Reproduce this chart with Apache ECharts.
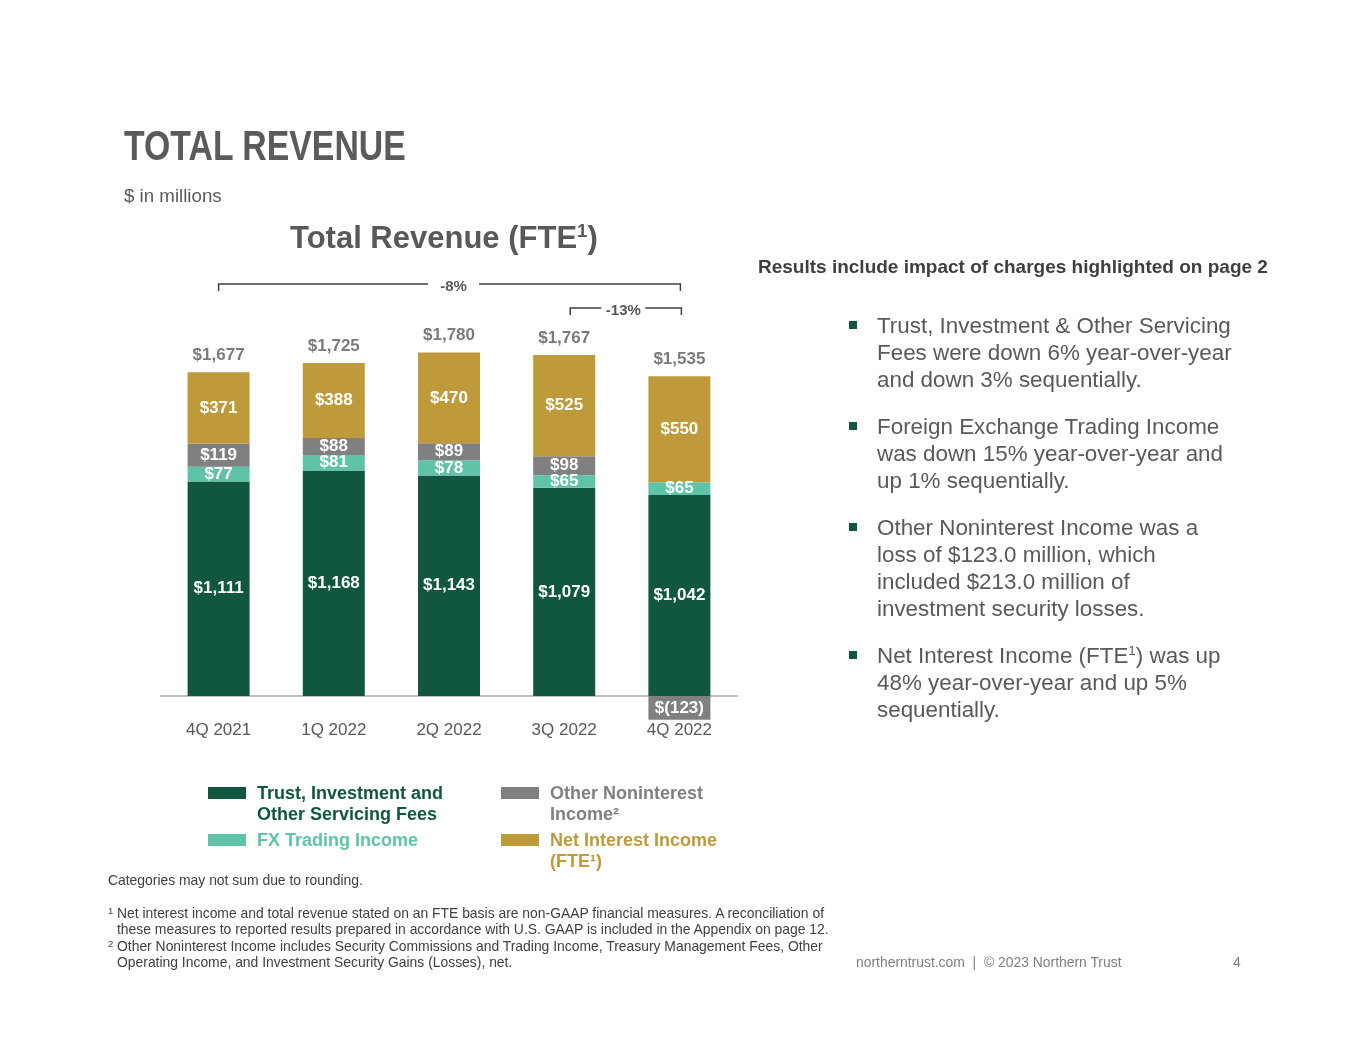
<!DOCTYPE html>
<html>
<head>
<meta charset="utf-8">
<title>Total Revenue</title>
<script src="https://cdn.jsdelivr.net/npm/echarts@6.0.0/dist/echarts.min.js"></script>
<style>
    html, body { margin: 0; padding: 0; background: #fff; }
    body { width: 1365px; height: 1055px; position: relative; overflow: hidden;
           font-family: "Liberation Sans", Arial, sans-serif; }
    #main { position: absolute; left: 0; top: 0; width: 1365px; height: 1055px; }
    .txt { position: absolute; white-space: nowrap; }
    .pageTitle { left: 124px; top: 125px; font-size: 42px; line-height: 42px; font-weight: bold;
                 color: #5b5b5b; transform: scaleX(0.805); transform-origin: left top; }
    .unit { left: 124px; top: 186px; font-size: 18.7px; line-height: 20px; color: #595959; }
    .chartTitle { left: 290px; top: 222px; font-size: 31px; line-height: 31px; font-weight: bold; color: #595959; }
    .chartTitle sup, .bullets sup { font-size: 60%; line-height: 0; vertical-align: 0.6em; }
    .note { left: 758px; top: 257px; font-size: 19px; line-height: 20px; font-weight: bold; color: #3f3f3f; }
    .bullets { left: 877px; top: 312px; font-size: 22.4px; line-height: 27px; color: #595959; }
    .bullets p { margin: 0 0 20px 0; position: relative; }
    .bullets p:before { content: ""; position: absolute; left: -28px; top: 9px; width: 8px; height: 8px; background: #115740; }
    .foot { font-size: 13.9px; line-height: 16.4px; color: #404040; }
    .fn { position: relative; padding-left: 9px; }
    .fn .mk { position: absolute; left: 0; top: -2px; font-size: 9.5px; }
    .footer { top: 954px; font-size: 13.9px; line-height: 16px; color: #7f7f7f; }
</style>
</head>
<body>
<div id="main"></div>

<div class="txt pageTitle">TOTAL REVENUE</div>
<div class="txt unit">$ in millions</div>
<div class="txt chartTitle">Total Revenue (FTE<sup>1</sup>)</div>
<div class="txt note">Results include impact of charges highlighted on page 2</div>

<div class="txt bullets">
    <p>Trust, Investment &amp; Other Servicing<br>Fees were down 6% year-over-year<br>and down 3% sequentially.</p>
    <p>Foreign Exchange Trading Income<br>was down 15% year-over-year and<br>up 1% sequentially.</p>
    <p>Other Noninterest Income was a<br>loss of $123.0 million, which<br>included $213.0 million of<br>investment security losses.</p>
    <p>Net Interest Income (FTE<sup>1</sup>) was up<br>48% year-over-year and up 5%<br>sequentially.</p>
</div>

<div class="txt foot" style="left:108px;top:872px;">Categories may not sum due to rounding.</div>
<div class="txt foot" style="left:108px;top:905px;">
    <div class="fn"><span class="mk">1</span>Net interest income and total revenue stated on an FTE basis are non-GAAP financial measures. A reconciliation of<br>these measures to reported results prepared in accordance with U.S. GAAP is included in the Appendix on page 12.</div>
    <div class="fn"><span class="mk">2</span>Other Noninterest Income includes Security Commissions and Trading Income, Treasury Management Fees, Other<br>Operating Income, and Investment Security Gains (Losses), net.</div>
</div>

<div class="txt footer" style="left:856px;">northerntrust.com &nbsp;|&nbsp; © 2023 Northern Trust</div>
<div class="txt footer" style="left:1233px;">4</div>

<script>
// 数据
var categories = ['4Q 2021', '1Q 2022', '2Q 2022', '3Q 2022', '4Q 2022'];
var trustFees = [1111, 1168, 1143, 1079, 1042];
var fxIncome = [77, 81, 78, 65, 65];
var otherIncome = [119, 88, 89, 98, -123];
var netInterest = [371, 388, 470, 525, 550];
var totals = [1677, 1725, 1780, 1767, 1535];
// 变化幅度 (from / to 是类目下标)
var changes = [
    { from: 0, to: 4, text: '-8%' },
    { from: 3, to: 4, text: '-13%' }
];

var FONT = '"Liberation Sans", Arial, sans-serif';
var colors = {
    trust: '#115740',
    fx: '#5fc4a7',
    other: '#808080',
    nii: '#bf9a3b'
};

window.onload = function () {
    drawRevenue();
};

// 金额格式 $1,111 / $(123)
var money = function (v) {
    var s = String(Math.abs(v)).replace(/\B(?=(\d{3})+(?!\d))/g, ',');
    return v < 0 ? '$(' + s + ')' : '$' + s;
};

var barSeries = function (name, data, color) {
    return {
        name: name,
        type: 'bar',
        stack: 'rev',
        barWidth: 62,
        clip: false,
        data: data,
        itemStyle: { color: color },
        emphasis: { disabled: true },
        label: {
            show: true,
            position: 'inside',
            color: '#fff',
            fontFamily: FONT,
            fontWeight: 'bold',
            fontSize: 17,
            formatter: function (p) { return money(p.value); }
        }
    };
};

var drawRevenue = function () {
    var box = document.getElementById('main');
    var myChart = echarts.init(box);

    // 正值堆叠的顶部, 用来放总额标签
    var posTop = categories.map(function (c, i) {
        return [trustFees, fxIncome, otherIncome, netInterest].reduce(function (s, arr) {
            return s + Math.max(arr[i], 0);
        }, 0);
    });

    // 网格底边就是 0 线, 负值柱子画在网格下方
    var option = {
        animation: false,
        grid: { left: 161, top: 310, width: 576, height: 386 },
        xAxis: {
            type: 'category',
            data: categories,
            axisTick: { show: false },
            axisLine: { lineStyle: { color: '#bfbfbf', width: 2 } },
            axisLabel: { margin: 26, fontSize: 17, color: '#595959', fontFamily: FONT }
        },
        yAxis: {
            type: 'value',
            min: 0,
            max: 2000,
            show: false
        },
        series: [
            barSeries('Trust, Investment and Other Servicing Fees', trustFees, colors.trust),
            barSeries('FX Trading Income', fxIncome, colors.fx),
            barSeries('Other Noninterest Income', otherIncome, colors.other),
            barSeries('Net Interest Income (FTE)', netInterest, colors.nii),
            {
                name: 'Total',
                type: 'scatter',
                data: posTop,
                symbolSize: 1,
                silent: true,
                itemStyle: { color: 'rgba(0,0,0,0)' },
                label: {
                    show: true,
                    position: 'top',
                    distance: 8,
                    color: '#595959',
                    fontFamily: FONT,
                    fontWeight: 'bold',
                    fontSize: 17,
                    formatter: function (p) { return money(totals[p.dataIndex]); }
                }
            }
        ]
    };
    myChart.setOption(option);

    // 图例 + 变化括号
    var g = [];
    var legendItems = [
        { text: 'Trust, Investment and\nOther Servicing Fees', color: colors.trust, x: 208, y: 793 },
        { text: 'FX Trading Income', color: colors.fx, x: 208, y: 840 },
        { text: 'Other Noninterest\nIncome\u00b2', color: colors.other, x: 501, y: 793 },
        { text: 'Net Interest Income\n(FTE\u00b9)', color: colors.nii, x: 501, y: 840 }
    ];
    legendItems.forEach(function (it) {
        g.push({ type: 'rect', shape: { x: it.x, y: it.y - 6, width: 38, height: 12 }, style: { fill: it.color } });
        g.push({
            type: 'text', x: it.x + 49, y: it.y - 10,
            style: {
                text: it.text, fill: it.color, fontFamily: FONT, fontWeight: 'bold',
                fontSize: 18, lineHeight: 21.5, verticalAlign: 'top'
            }
        });
    });

    var px = function (i) { return myChart.convertToPixel({ xAxisIndex: 0 }, categories[i]); };
    var bracketLayout = [
        { y: 284, dl: 0, dr: 1, shift: 4, half: 25.5 },
        { y: 308, dl: 6, dr: 2, shift: -2.5, half: 22 }
    ];
    changes.forEach(function (c, k) {
        var L = bracketLayout[k];
        var x1 = px(c.from) + L.dl, x2 = px(c.to) + L.dr;
        var mid = (x1 + x2) / 2 + L.shift;
        var line = { stroke: '#404040', lineWidth: 1.5, fill: null };
        g.push({ type: 'polyline', shape: { points: [[x1, L.y + 7], [x1, L.y], [mid - L.half, L.y]] }, style: line });
        g.push({ type: 'polyline', shape: { points: [[mid + L.half, L.y], [x2, L.y], [x2, L.y + 7]] }, style: line });
        g.push({
            type: 'text', x: mid, y: L.y + 3,
            style: {
                text: c.text, fill: '#595959', fontFamily: FONT, fontWeight: 'bold', fontSize: 15,
                align: 'center', verticalAlign: 'middle'
            }
        });
    });

    myChart.setOption({ graphic: g });
};
</script>
</body>
</html>
